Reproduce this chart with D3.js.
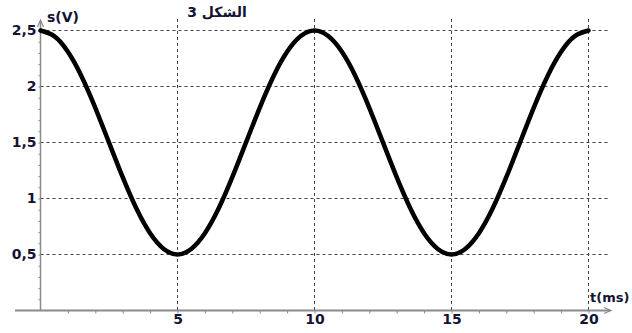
<!DOCTYPE html>
<html>
<head>
<meta charset="utf-8">
<script src="https://cdn.jsdelivr.net/npm/d3@7"></script>
<style>
  html, body { margin: 0; padding: 0; background: #fff; }
  svg text { font-family: Tahoma, "DejaVu Sans", sans-serif; font-weight: bold; fill: #141432; }
</style>
</head>
<body>
<svg id="chart" width="632" height="333"></svg>
<script>
// values, every 0.5 ms
const timeMs = d3.range(0, 41).map(i => i / 2);
const voltage = [
  2.5, 2.45, 2.31, 2.09, 1.81, 1.5, 1.19, 0.91, 0.69, 0.55,
  0.5, 0.55, 0.69, 0.91, 1.19, 1.5, 1.81, 2.09, 2.31, 2.45,
  2.5, 2.45, 2.31, 2.09, 1.81, 1.5, 1.19, 0.91, 0.69, 0.55,
  0.5, 0.55, 0.69, 0.91, 1.19, 1.5, 1.81, 2.09, 2.31, 2.45,
  2.5
];
const xLabelTicks = [5, 10, 15, 20];
const yLabelTicks = [0.5, 1, 1.5, 2, 2.5];
const title = "الشكل 3";

const svg = d3.select("#chart");

// scales
const x = d3.scaleLinear().domain([0, 20]).range([40.5, 588.5]);
const y = d3.scaleLinear().domain([0, 2.5]).range([310.5, 30.5]);

const axisColor = "#8a8a8a";
const gridColor = "#444";

// Grid lines (dotted)
svg.append("g")
  .selectAll("line")
  .data(yLabelTicks)
  .enter()
  .append("line")
  .attr("x1", x(0))
  .attr("x2", 608)
  .attr("y1", d => y(d))
  .attr("y2", d => y(d))
  .attr("stroke", gridColor)
  .attr("stroke-width", 1)
  .attr("stroke-dasharray", "3,3");

svg.append("g")
  .selectAll("line")
  .data(xLabelTicks)
  .enter()
  .append("line")
  .attr("x1", d => x(d))
  .attr("x2", d => x(d))
  .attr("y1", 19)
  .attr("y2", y(0))
  .attr("stroke", gridColor)
  .attr("stroke-width", 1)
  .attr("stroke-dasharray", "3,3");

// minor ticks via d3 axes
const xTicks = svg.append("g")
  .attr("transform", `translate(0, ${ y(0) })`)
  .call(d3.axisBottom(x).tickValues(d3.range(1, 21)).tickSize(3).tickFormat(""));
xTicks.select(".domain").remove();
xTicks.selectAll("line").attr("stroke", axisColor);

const yTicks = svg.append("g")
  .attr("transform", `translate(${ x(0) }, 0)`)
  .call(d3.axisLeft(y).tickValues(d3.range(1, 26).map(i => i / 10)).tickSize(2).tickFormat(""));
yTicks.select(".domain").remove();
yTicks.selectAll("line").attr("stroke", axisColor);

// tick labels
const xLab = svg.append("g")
  .attr("transform", `translate(0, ${ y(0) })`)
  .call(d3.axisBottom(x).tickValues(xLabelTicks).tickSize(0).tickPadding(4).tickFormat(d3.format("d")));
xLab.select(".domain").remove();
xLab.selectAll("text").attr("font-size", "14px").attr("fill", "#141432");

const yLab = svg.append("g")
  .attr("transform", `translate(${ x(0) - 4 }, 0)`)
  .call(d3.axisLeft(y).tickValues(yLabelTicks).tickSize(0).tickPadding(0)
    .tickFormat(d => String(d).replace(".", ",")));
yLab.select(".domain").remove();
yLab.selectAll("text").attr("font-size", "14px").attr("fill", "#141432");

// axis lines
svg.append("line")
  .attr("x1", 15).attr("x2", 610)
  .attr("y1", y(0)).attr("y2", y(0))
  .attr("stroke", axisColor).attr("stroke-width", 2);
svg.append("line")
  .attr("x1", x(0)).attr("x2", x(0))
  .attr("y1", y(0)).attr("y2", 21)
  .attr("stroke", axisColor).attr("stroke-width", 1.5);

// arrow heads
svg.append("path")
  .attr("d", `M${ 604 },${ y(0) - 3 } L${ 611 },${ y(0) } L${ 604 },${ y(0) + 3 }`)
  .attr("fill", "none").attr("stroke", axisColor).attr("stroke-width", 1.2);
svg.append("path")
  .attr("d", `M${ x(0) - 3 },27 L${ x(0) },20 L${ x(0) + 3 },27`)
  .attr("fill", "none").attr("stroke", axisColor).attr("stroke-width", 1.2);

// the curve
const line = d3.line()
  .x((d, i) => x(timeMs[i]))
  .y(d => y(d))
  .curve(d3.curveNatural);

svg.append("path")
  .datum(voltage)
  .attr("d", line)
  .attr("fill", "none")
  .attr("stroke", "#000")
  .attr("stroke-width", 4.5)
  .attr("stroke-linecap", "round");

// axis titles
svg.append("text")
  .attr("x", 47).attr("y", 22)
  .attr("font-size", "14px")
  .text("s(V)");

svg.append("text")
  .attr("x", 590).attr("y", 302)
  .attr("font-size", "13px")
  .text("t(ms)");

svg.append("text")
  .attr("x", 217).attr("y", 17)
  .attr("text-anchor", "middle")
  .attr("font-size", "14px")
  .text(title);
</script>
</body>
</html>
